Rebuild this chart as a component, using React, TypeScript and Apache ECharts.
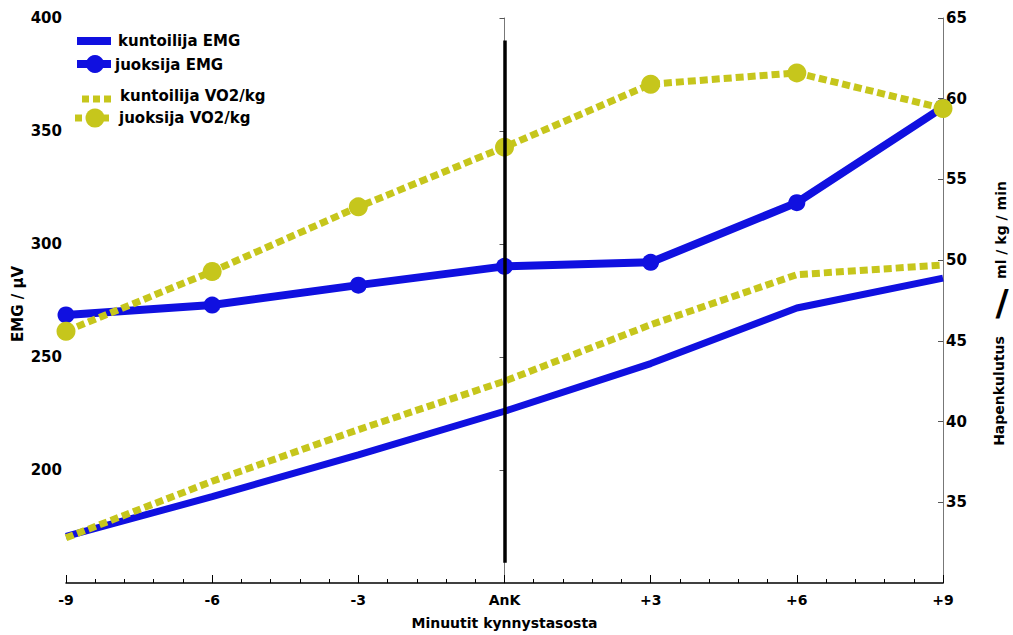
import React, { useEffect, useRef } from "react";
import * as echarts from "echarts";

const minutes = [-9, -6, -3, 0, 3, 6, 9];
const kuntoilijaEMG = [170.6, 188.2, 206.7, 226, 247.1, 271.7, 284.9];
const juoksijaEMG = [268.6, 273, 281.8, 290.1, 291.9, 318.3, 360.5];
const kuntoilijaVO2 = [32.8, 36.3, 39.5, 42.5, 46.0, 49.1, 49.7];
const juoksijaVO2 = [45.6, 49.3, 53.3, 57.0, 60.9, 61.6, 59.4];
const ankLine = [159, 390];
const legendNames = ["kuntoilija EMG", "juoksija EMG", "kuntoilija VO2/kg", "juoksija VO2/kg"];

const BLUE = "#1010e0";
const YELLOW = "#c6c61c";
const FONT = "'DejaVu Sans', 'Liberation Sans', Arial, sans-serif";

const pair = (vals: number[]) => minutes.map((m, i) => [m, vals[i]]);

export default function App() {
  const ref = useRef<HTMLDivElement>(null);
  useEffect(() => {
    if (!ref.current) return;
    const chart = echarts.init(ref.current, null, { renderer: "svg" });
    const labelStyle = { color: "#000", fontWeight: "bold" as const, fontSize: 14, fontFamily: FONT };
    const txt = (text: string, x: number, y: number, size = 15, rotation = 0, align = "left") => ({
      type: "text",
      x,
      y,
      rotation,
      z: 100,
      style: { text, font: `bold ${size}px ${FONT}`, fill: "#000", align, verticalAlign: "middle" },
    });
    const squares = (x0: number, y: number, xs: number[]) =>
      xs.map((dx) => ({
        type: "rect",
        z: 100,
        shape: { x: x0 + dx, y: y - 3.5, width: 7, height: 7 },
        style: { fill: YELLOW },
      }));
    chart.setOption({
      animation: false,
      backgroundColor: "#fff",
      grid: { left: 66, right: 70, top: 18, bottom: 48 },
      xAxis: {
        type: "value",
        min: -9,
        max: 9,
        interval: 3,
        name: "Minuutit kynnystasosta",
        nameLocation: "middle",
        nameGap: 33,
        nameTextStyle: { ...labelStyle },
        axisLine: { lineStyle: { color: "#000", width: 1.5 } },
        axisTick: { inside: true, length: 8, lineStyle: { color: "#000" } },
        minorTick: { show: true, splitNumber: 5, length: 4, lineStyle: { color: "#000" } },
        splitLine: { show: false },
        axisLabel: {
          ...labelStyle,
          fontSize: 14,
          margin: 10,
          formatter: (v: number) => (v === 0 ? "AnK" : v > 0 ? "+" + v : String(v)),
        },
      },
      yAxis: [
        {
          type: "value",
          min: 150,
          max: 400,
          interval: 50,
          position: "left",
          axisLine: { show: true, lineStyle: { color: "#777", width: 1 } },
          axisTick: { show: true, length: 5, lineStyle: { color: "#555" } },
          splitLine: { show: false },
          axisLabel: { ...labelStyle, fontSize: 15, showMinLabel: false, margin: 4 },
        },
        {
          type: "value",
          min: 30,
          max: 65,
          interval: 5,
          position: "right",
          axisLine: { show: true, lineStyle: { color: "#777", width: 1 } },
          axisTick: { show: true, inside: true, length: 5, lineStyle: { color: "#555" } },
          splitLine: { show: false },
          axisLabel: { ...labelStyle, fontSize: 15, showMinLabel: false, margin: 3 },
        },
      ],
      graphic: [
        txt("EMG / µV", 18, 304, 15, Math.PI / 2, "center"),
        txt("ml / kg / min", 1001, 230, 14, Math.PI / 2, "center"),
        txt("/", 1002, 302, 36, 0, "center"),
        txt("Hapenkulutus", 999, 391, 14, Math.PI / 2, "center"),
        // legend
        { type: "rect", z: 100, shape: { x: 77, y: 37, width: 34, height: 8 }, style: { fill: BLUE } },
        txt(legendNames[0], 118, 41),
        { type: "rect", z: 100, shape: { x: 77, y: 60, width: 34, height: 8 }, style: { fill: BLUE } },
        { type: "circle", z: 100, shape: { cx: 95, cy: 64, r: 9 }, style: { fill: BLUE } },
        txt(legendNames[1], 115, 65),
        ...squares(82, 99, [0, 11, 22]),
        txt(legendNames[2], 120, 96),
        ...squares(75, 118, [0, 27]),
        { type: "circle", z: 100, shape: { cx: 95, cy: 118, r: 9.5 }, style: { fill: YELLOW } },
        txt(legendNames[3], 119, 118),
      ],
      series: [
        {
          name: legendNames[0],
          type: "line",
          yAxisIndex: 0,
          data: pair(kuntoilijaEMG),
          symbol: "none",
          color: BLUE,
          lineStyle: { color: BLUE, width: 7 },
          markLine: {
            silent: true,
            symbol: "none",
            label: { show: false },
            lineStyle: { color: "#000", width: 3.5, type: "solid" },
            data: [[{ coord: [0, ankLine[0]] }, { coord: [0, ankLine[1]] }]],
            z: 10,
          },
        },
        {
          name: legendNames[1],
          type: "line",
          yAxisIndex: 0,
          data: pair(juoksijaEMG),
          symbol: "circle",
          symbolSize: 17,
          color: BLUE,
          itemStyle: { color: BLUE },
          lineStyle: { color: BLUE, width: 8 },
        },
        {
          name: legendNames[2],
          type: "line",
          yAxisIndex: 1,
          data: pair(kuntoilijaVO2),
          symbol: "none",
          color: YELLOW,
          lineStyle: { color: YELLOW, width: 7, type: [8, 4] },
        },
        {
          name: legendNames[3],
          type: "line",
          yAxisIndex: 1,
          data: pair(juoksijaVO2),
          symbol: "circle",
          symbolSize: 19,
          color: YELLOW,
          itemStyle: { color: YELLOW },
          lineStyle: { color: YELLOW, width: 7, type: [8, 4] },
        },
      ],
    });
    return () => chart.dispose();
  }, []);
  return (
    <div
      ref={ref}
      style={{ position: "absolute", left: 0, top: 0, width: 1013, height: 635 }}
    />
  );
}
